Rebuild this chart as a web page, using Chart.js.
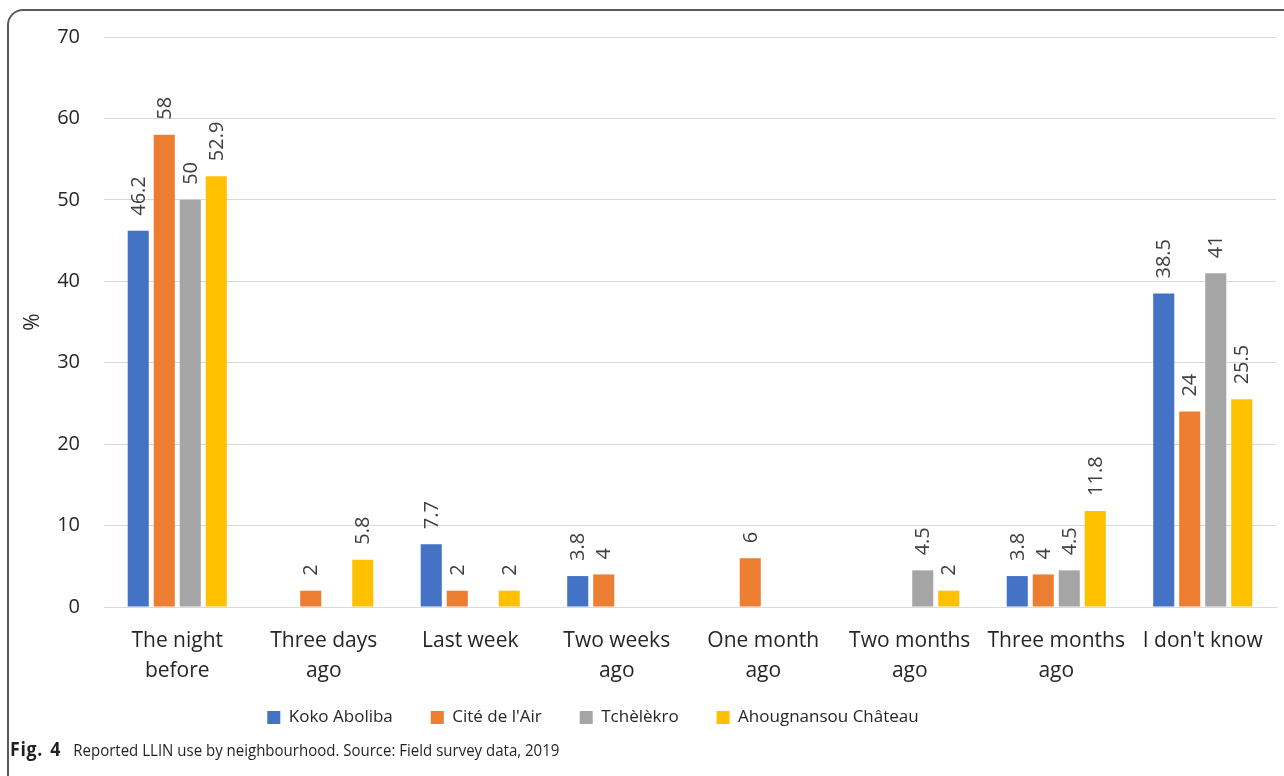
<!DOCTYPE html>
<html>
<head>
<meta charset="utf-8">
<script src="https://cdn.jsdelivr.net/npm/chart.js@4/dist/chart.umd.min.js"></script>
<style>
  html, body { margin: 0; padding: 0; background: #fff; }
  body { width: 1284px; height: 776px; position: relative; overflow: hidden; }
  #frame {
    position: absolute; left: 7px; top: 9px; width: 1290px; height: 780px;
    border-left: 2px solid #5a5a5a; border-top: 2px solid #5a5a5a;
    border-top-left-radius: 16px; box-sizing: border-box;
  }
  #wrap { position: absolute; left: 0; top: 0; width: 1284px; height: 776px; }
  #caption {
    position: absolute; left: 10px; top: 735px; white-space: nowrap;
    font-family: "Open Sans", sans-serif; font-size: 16.5px; color: #231f20;
    transform-origin: 0 0; transform: scaleX(0.91);
  }
  #caption b { font-weight: 700; font-size: 19.5px; letter-spacing: 0.8px; word-spacing: 2px; margin-right: 9px; }
</style>
</head>
<body>
<div id="frame"></div>
<div id="wrap"><canvas id="c" width="1284" height="776"></canvas></div>
<div id="caption"><b>Fig. 4</b> Reported LLIN use by neighbourhood. Source: Field survey data, 2019</div>
<script>
// Time since the net was last used, per neighbourhood (% of respondents)
const categories = [
  ["The night", "before"],
  ["Three days", "ago"],
  "Last week",
  ["Two weeks", "ago"],
  ["One month", "ago"],
  ["Two months", "ago"],
  ["Three months", "ago"],
  "I don't know"
];
const seriesNames = ["Koko Aboliba", "Cité de l'Air", "Tchèlèkro", "Ahougnansou Château"];
const kokoAboliba        = [46.2, null, 7.7, 3.8, null, null, 3.8, 38.5];
const citeDeLAir         = [58,   2,    2,   4,   6,    null, 4,   24];
const tchelekro          = [50,   null, null, null, null, 4.5, 4.5, 41];
const ahougnansouChateau = [52.9, 5.8,  2,   null, null, 2,   11.8, 25.5];
const yTicks = [0, 10, 20, 30, 40, 50, 60, 70];

const colors = ["#4472C4", "#ED7D31", "#A5A5A5", "#FFC000"];
const values = [kokoAboliba, citeDeLAir, tchelekro, ahougnansouChateau];

Chart.defaults.font.family = '"Open Sans", sans-serif';

// Vertical value labels written just above each bar
const barValueLabels = {
  id: 'barValueLabels',
  afterDatasetsDraw(chart) {
    const ctx = chart.ctx;
    ctx.save();
    ctx.font = '20px "Open Sans", sans-serif';
    ctx.fillStyle = '#404040';
    ctx.textAlign = 'left';
    ctx.textBaseline = 'middle';
    chart.data.datasets.forEach((ds, di) => {
      const meta = chart.getDatasetMeta(di);
      meta.data.forEach((bar, i) => {
        const v = ds.data[i];
        if (v === null || v === undefined) return;
        ctx.save();
        ctx.translate(bar.x + 1, bar.y - 15);
        ctx.rotate(-Math.PI / 2);
        ctx.fillText(String(v), 0, 0);
        ctx.restore();
      });
    });
    ctx.restore();
  }
};

// Legend row sits a little left of the page centre
const legendShift = {
  id: 'legendShift',
  afterLayout(chart) {
    const lg = chart.legend;
    if (!lg) return;
    lg.left -= 55;
    lg.right -= 55;
  }
};

new Chart(document.getElementById('c'), {
  type: 'bar',
  data: {
    labels: categories,
    datasets: seriesNames.map((name, k) => ({
      label: name,
      data: values[k],
      backgroundColor: colors[k],
      borderWidth: 0,
      categoryPercentage: 0.71,
      barPercentage: 0.81
    }))
  },
  options: {
    responsive: false,
    animation: false,
    devicePixelRatio: 1,
    layout: { padding: { top: 37, left: 20, right: 8, bottom: 40 } },
    plugins: {
      tooltip: { enabled: false },
      legend: {
        position: 'bottom',
        labels: {
          boxWidth: 13, boxHeight: 13, padding: 38,
          color: '#262626',
          font: { size: 17 }
        }
      }
    },
    scales: {
      x: {
        grid: { display: false, drawTicks: false },
        border: { display: true, color: '#d9d9d9', width: 1 },
        ticks: {
          color: '#262626', font: { size: 21, lineHeight: 1.43 },
          padding: 19, maxRotation: 0, autoSkip: false
        },
        afterFit(scale) {
          scale.height = 64;
          // two-line category names run below the axis box
          scale._computeLabelArea = () => undefined;
        }
      },
      y: {
        min: 0, max: 70,
        afterBuildTicks(scale) { scale.ticks = yTicks.map(v => ({ value: v })); },
        grid: { color: '#d9d9d9', lineWidth: 1, drawTicks: false },
        border: { display: false },
        ticks: { color: '#262626', font: { size: 20 }, padding: 24 },
        title: {
          display: true, text: '%', color: '#262626',
          font: { size: 21 }, padding: { top: 0, bottom: 0 }
        },
        afterFit(scale) { scale.width = 84; }
      }
    }
  },
  plugins: [barValueLabels, legendShift]
});
</script>
</body>
</html>
